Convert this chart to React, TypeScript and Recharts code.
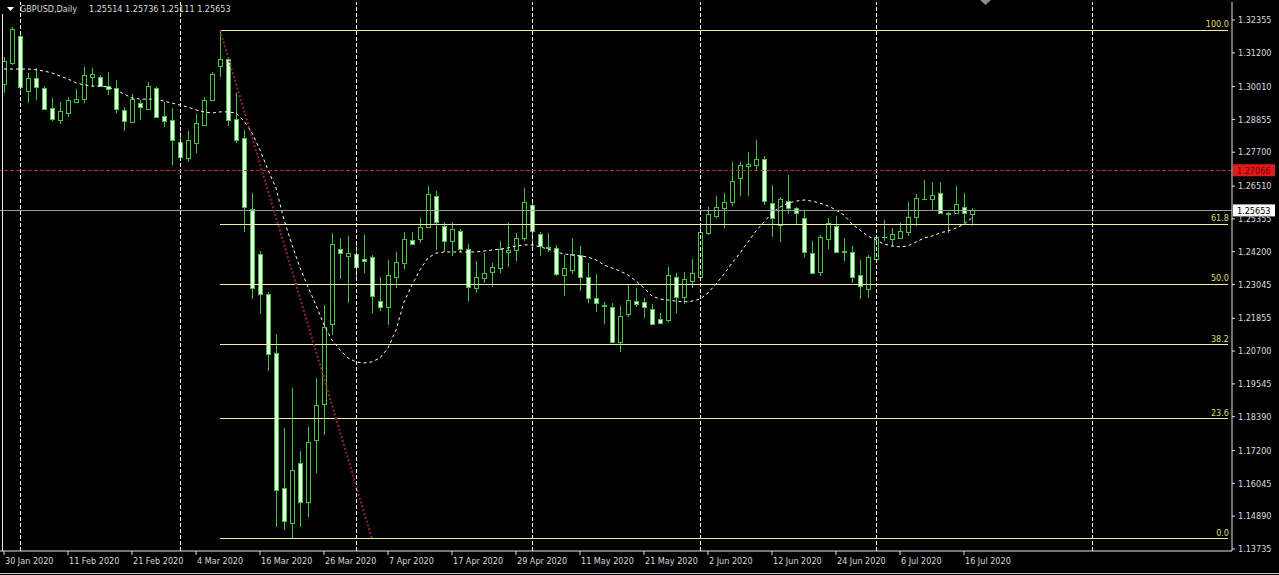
import { ComposedChart, Bar, Line, XAxis, YAxis, ReferenceLine } from 'recharts'

const FONT = "'DejaVu Sans Condensed', 'DejaVu Sans', sans-serif"

const DATES = [
  '30 Jan', '31 Jan',
  '3 Feb', '4 Feb', '5 Feb', '6 Feb', '7 Feb', '10 Feb', '11 Feb', '12 Feb', '13 Feb', '14 Feb',
  '17 Feb', '18 Feb', '19 Feb', '20 Feb', '21 Feb', '24 Feb', '25 Feb', '26 Feb', '27 Feb', '28 Feb',
  '2 Mar', '3 Mar', '4 Mar', '5 Mar', '6 Mar', '9 Mar', '10 Mar', '11 Mar', '12 Mar', '13 Mar',
  '16 Mar', '17 Mar', '18 Mar', '19 Mar', '20 Mar', '23 Mar', '24 Mar', '25 Mar', '26 Mar', '27 Mar',
  '30 Mar', '31 Mar',
  '1 Apr', '2 Apr', '3 Apr', '6 Apr', '7 Apr', '8 Apr', '9 Apr', '10 Apr', '13 Apr', '14 Apr',
  '15 Apr', '16 Apr', '17 Apr', '20 Apr', '21 Apr', '22 Apr', '23 Apr', '24 Apr', '27 Apr', '28 Apr',
  '29 Apr', '30 Apr',
  '1 May', '4 May', '5 May', '6 May', '7 May', '8 May', '11 May', '12 May', '13 May', '14 May',
  '15 May', '18 May', '19 May', '20 May', '21 May', '22 May', '25 May', '26 May', '27 May', '28 May',
  '29 May',
  '1 Jun', '2 Jun', '3 Jun', '4 Jun', '5 Jun', '8 Jun', '9 Jun', '10 Jun', '11 Jun', '12 Jun',
  '15 Jun', '16 Jun', '17 Jun', '18 Jun', '19 Jun', '22 Jun', '23 Jun', '24 Jun', '25 Jun', '26 Jun',
  '29 Jun', '30 Jun',
  '1 Jul', '2 Jul', '3 Jul', '6 Jul', '7 Jul', '8 Jul', '9 Jul', '10 Jul', '13 Jul', '14 Jul',
  '15 Jul', '16 Jul', '17 Jul',
]

const OPEN = [
  1.3010, 1.3084, 1.3179, 1.2986, 1.3031, 1.2996, 1.2926, 1.2884, 1.2908, 1.2947,
  1.2957, 1.3035, 1.3035, 1.3003, 1.2996, 1.2919, 1.2876, 1.2943, 1.2922, 1.2996,
  1.2898, 1.2884, 1.2806, 1.2750, 1.2803, 1.2866, 1.2954, 1.3074, 1.3098, 1.2887,
  1.2820, 1.2570, 1.2412, 1.2271, 1.2063, 1.1588, 1.1465, 1.1676, 1.1539, 1.1757,
  1.1884, 1.2165, 1.2429, 1.2405, 1.2412, 1.2394, 1.2401, 1.2246, 1.2225, 1.2331,
  1.2380, 1.2461, 1.2465, 1.2507, 1.2616, 1.2510, 1.2458, 1.2493, 1.2429, 1.2292,
  1.2327, 1.2348, 1.2363, 1.2419, 1.2426, 1.2468, 1.2584, 1.2482, 1.2437, 1.2433,
  1.2338, 1.2356, 1.2408, 1.2331, 1.2257, 1.2232, 1.2225, 1.2102, 1.2201, 1.2246,
  1.2243, 1.2218, 1.2183, 1.2180, 1.2331, 1.2261, 1.2317, 1.2331, 1.2486, 1.2546,
  1.2574, 1.2595, 1.2679, 1.2722, 1.2725, 1.2746, 1.2591, 1.2514, 1.2598, 1.2574,
  1.2539, 1.2415, 1.2348, 1.2465, 1.2510, 1.2419, 1.2419, 1.2338, 1.2289, 1.2394,
  1.2472, 1.2465, 1.2468, 1.2489, 1.2542, 1.2605, 1.2605, 1.2627, 1.2556, 1.2556,
  1.2577, 1.25514,
]

const HIGH = [
  1.3105, 1.3211, 1.3190, 1.3049, 1.3067, 1.3003, 1.2961, 1.2947, 1.2964, 1.2993,
  1.3070, 1.3067, 1.3042, 1.3052, 1.3024, 1.2929, 1.2975, 1.2954, 1.3017, 1.3000,
  1.2947, 1.2926, 1.2841, 1.2845, 1.2905, 1.2964, 1.3052, 1.3200, 1.3105, 1.2979,
  1.2848, 1.2627, 1.2422, 1.2278, 1.2130, 1.1799, 1.1940, 1.1718, 1.1803, 1.1975,
  1.2232, 1.2486, 1.2468, 1.2475, 1.2444, 1.2479, 1.2408, 1.2331, 1.2391, 1.2419,
  1.2489, 1.2489, 1.2539, 1.2651, 1.2634, 1.2524, 1.2524, 1.2500, 1.2447, 1.2387,
  1.2415, 1.2380, 1.2458, 1.2521, 1.2486, 1.2644, 1.2595, 1.2489, 1.2486, 1.2444,
  1.2408, 1.2468, 1.2440, 1.2380, 1.2341, 1.2243, 1.2239, 1.2229, 1.2303, 1.2292,
  1.2257, 1.2236, 1.2204, 1.2366, 1.2345, 1.2348, 1.2394, 1.2507, 1.2577, 1.2616,
  1.2627, 1.2736, 1.2736, 1.2771, 1.2813, 1.2757, 1.2655, 1.2612, 1.2690, 1.2577,
  1.2563, 1.2458, 1.2479, 1.2539, 1.2546, 1.2468, 1.2440, 1.2391, 1.2408, 1.2475,
  1.2532, 1.2503, 1.2521, 1.2595, 1.2623, 1.2672, 1.2665, 1.2665, 1.2560, 1.2651,
  1.2627, 1.25736,
]

const LOW = [
  1.2979, 1.3077, 1.2982, 1.2943, 1.2954, 1.2919, 1.2880, 1.2869, 1.2894, 1.2943,
  1.2943, 1.3000, 1.3000, 1.2972, 1.2908, 1.2845, 1.2873, 1.2884, 1.2919, 1.2891,
  1.2859, 1.2725, 1.2743, 1.2736, 1.2767, 1.2862, 1.2950, 1.3035, 1.2862, 1.2803,
  1.2489, 1.2253, 1.2201, 1.2000, 1.1451, 1.1440, 1.1409, 1.1451, 1.1486, 1.1641,
  1.1775, 1.2127, 1.2324, 1.2239, 1.2320, 1.2345, 1.2204, 1.2211, 1.2162, 1.2292,
  1.2359, 1.2444, 1.2451, 1.2503, 1.2426, 1.2419, 1.2405, 1.2419, 1.2246, 1.2275,
  1.2310, 1.2296, 1.2345, 1.2366, 1.2387, 1.2458, 1.2437, 1.2405, 1.2419, 1.2334,
  1.2264, 1.2341, 1.2282, 1.2239, 1.2208, 1.2165, 1.2099, 1.2067, 1.2190, 1.2225,
  1.2187, 1.2162, 1.2165, 1.2172, 1.2204, 1.2236, 1.2292, 1.2327, 1.2479, 1.2539,
  1.2503, 1.2581, 1.2616, 1.2616, 1.2708, 1.2584, 1.2472, 1.2454, 1.2553, 1.2514,
  1.2401, 1.2341, 1.2334, 1.2429, 1.2415, 1.2387, 1.2310, 1.2253, 1.2257, 1.2384,
  1.2458, 1.2440, 1.2465, 1.2475, 1.2510, 1.2602, 1.2567, 1.2553, 1.2486, 1.2553,
  1.2521, 1.25111,
]

const CLOSE = [
  1.3091, 1.3204, 1.3000, 1.3031, 1.3000, 1.2922, 1.2887, 1.2915, 1.2954, 1.2957,
  1.3042, 1.3045, 1.3003, 1.2993, 1.2922, 1.2880, 1.2957, 1.2929, 1.3003, 1.2894,
  1.2880, 1.2813, 1.2753, 1.2813, 1.2873, 1.2954, 1.3045, 1.3098, 1.2884, 1.2813,
  1.2577, 1.2292, 1.2271, 1.2060, 1.1581, 1.1472, 1.1652, 1.1539, 1.1750, 1.1880,
  1.2155, 1.2447, 1.2415, 1.2415, 1.2366, 1.2387, 1.2264, 1.2225, 1.2338, 1.2384,
  1.2465, 1.2447, 1.2507, 1.2623, 1.2524, 1.2458, 1.2500, 1.2429, 1.2296, 1.2331,
  1.2345, 1.2366, 1.2429, 1.2426, 1.2468, 1.2595, 1.2493, 1.2440, 1.2433, 1.2341,
  1.2363, 1.2412, 1.2331, 1.2257, 1.2239, 1.2230, 1.2102, 1.2194, 1.2250, 1.2236,
  1.2225, 1.2165, 1.2169, 1.2338, 1.2261, 1.2324, 1.2345, 1.2489, 1.2553, 1.2577,
  1.2595, 1.2669, 1.2725, 1.2729, 1.2746, 1.2598, 1.2539, 1.2605, 1.2574, 1.2556,
  1.2419, 1.2345, 1.2472, 1.2521, 1.2419, 1.2422, 1.2331, 1.2299, 1.2401, 1.2472,
  1.2470, 1.2482, 1.2493, 1.2542, 1.2609, 1.2607, 1.2620, 1.2556, 1.2554, 1.2588,
  1.2556, 1.25653,
]

// moving average
const MA = [
  1.3063, 1.3063, 1.3063, 1.3063, 1.3060, 1.3056, 1.3049, 1.3038, 1.3028, 1.3014,
  1.3007, 1.3003, 1.3003, 1.3000, 1.2989, 1.2975, 1.2961, 1.2957, 1.2957, 1.2957,
  1.2950, 1.2943, 1.2936, 1.2929, 1.2919, 1.2912, 1.2908, 1.2912, 1.2912, 1.2908,
  1.2880, 1.2838, 1.2778, 1.2708, 1.2644, 1.2532, 1.2444, 1.2363, 1.2296, 1.2232,
  1.2162, 1.2109, 1.2074, 1.2046, 1.2032, 1.2028, 1.2032, 1.2046, 1.2081, 1.2144,
  1.2243, 1.2303, 1.2356, 1.2398, 1.2415, 1.2419, 1.2419, 1.2419, 1.2419, 1.2419,
  1.2422, 1.2426, 1.2429, 1.2433, 1.2440, 1.2444, 1.2444, 1.2437, 1.2429, 1.2419,
  1.2412, 1.2408, 1.2405, 1.2401, 1.2391, 1.2373, 1.2363, 1.2352, 1.2338, 1.2317,
  1.2292, 1.2264, 1.2253, 1.2250, 1.2246, 1.2243, 1.2246, 1.2253, 1.2275, 1.2306,
  1.2341, 1.2380, 1.2415, 1.2454, 1.2493, 1.2524, 1.2556, 1.2577, 1.2591, 1.2598,
  1.2602, 1.2598, 1.2591, 1.2581, 1.2567, 1.2549, 1.2517, 1.2496, 1.2475, 1.2461,
  1.2447, 1.2440, 1.2437, 1.2440, 1.2454, 1.2468, 1.2475, 1.2486, 1.2493, 1.2503,
  1.2517, 1.2539,
]

const SLOT_COUNT = 154 // visible bar slots incl. empty space on the right
const X_TICKS = [0, 8, 16, 24, 32, 40, 48, 56, 64, 72, 80, 88, 96, 104, 112, 120]
const GRID_SLOTS = [2, 22, 44, 66, 87, 109, 136]

const PRICE_TICKS = [
  1.32355, 1.312, 1.3001, 1.28855, 1.277, 1.2651, 1.25355, 1.242, 1.23045,
  1.21855, 1.207, 1.19545, 1.1839, 1.172, 1.16045, 1.1489, 1.13735,
]
const PRICE_MIN = 1.136638
const PRICE_MAX = 1.329886

const FIB_LABELS = ['100.0', '61.8', '50.0', '38.2', '23.6', '0.0']
const FIB_PRICES = [1.3200, 1.2516, 1.2305, 1.2093, 1.1832, 1.1409]
const FIB_FROM = 27
const TREND_FROM = { slot: 27, price: 1.3200 }
const TREND_TO = { slot: 46, price: 1.1409 }

const LEVEL_PRICE = 1.27066
const BID_PRICE = 1.25653

const WICK = '#43c443'
const BEAR_FILL = '#e2fbe0'

const rows = Array.from({ length: SLOT_COUNT }, (_, slot) => ({
  slot,
  date: DATES[slot],
  open: OPEN[slot],
  high: HIGH[slot],
  low: LOW[slot],
  close: CLOSE[slot],
  ma: MA[slot],
}))

function Candle(props: any) {
  const { x, y, width, height, payload } = props
  if (!payload || payload.high == null) return null
  const top = Math.min(y, y + height)
  const span = Math.abs(height)
  const k = span / (payload.high - payload.low)
  const cx = Math.round(x + width / 2) + 0.5
  const bull = payload.close >= payload.open
  const bTop = Math.round(top + (payload.high - Math.max(payload.open, payload.close)) * k) + 0.5
  const bBot = Math.round(top + (payload.high - Math.min(payload.open, payload.close)) * k) + 0.5
  return (
    <g>
      <line x1={cx} x2={cx} y1={top} y2={top + span} stroke={WICK} strokeWidth={1} />
      {bBot - bTop < 1 ? (
        <line x1={cx - 2.5} x2={cx + 2.5} y1={bTop} y2={bTop} stroke={WICK} strokeWidth={1} />
      ) : (
        <rect
          x={cx - 2}
          y={bTop}
          width={4}
          height={bBot - bTop}
          fill={bull ? '#000' : BEAR_FILL}
          stroke={WICK}
          strokeWidth={1}
        />
      )}
    </g>
  )
}

function DateTick(props: any) {
  const { x, y, payload } = props
  return (
    <text x={x + 1} y={y + 7} fill="#d8d8d8" fontSize={9} fontFamily={FONT} textAnchor="start">
      {`${DATES[payload.value]} 2020`}
    </text>
  )
}

function FibTag(props: any) {
  const { viewBox, text } = props
  if (!viewBox) return null
  return (
    <text
      x={viewBox.x + viewBox.width + 1}
      y={viewBox.y - 3}
      fill="#dede6c"
      fontSize={9}
      fontFamily={FONT}
      textAnchor="end"
    >
      {text}
    </text>
  )
}

function PriceTag(props: any) {
  const { viewBox, text, bg, fg } = props
  if (!viewBox) return null
  const left = viewBox.x + viewBox.width + 1
  return (
    <g>
      <rect x={left} y={viewBox.y - 6} width={42} height={12} fill={bg} />
      <text x={left + 4} y={viewBox.y + 3.5} fill={fg} fontSize={9} fontFamily={FONT}>
        {text}
      </text>
    </g>
  )
}

export default function App() {
  return (
    <div style={{ position: 'fixed', left: 0, top: 0, width: 1279, height: 575, background: '#000', overflow: 'hidden' }}>
      <ComposedChart
        width={1279}
        height={575}
        data={rows}
        margin={{ top: 2, right: 0, bottom: 0, left: 0 }}
        barCategoryGap={1}
      >
        <XAxis
          dataKey="slot"
          type="category"
          ticks={X_TICKS}
          interval={0}
          height={24}
          tick={<DateTick />}
          tickSize={4}
          tickLine={{ stroke: '#e0e0e0' }}
          axisLine={{ stroke: '#e8e8e8' }}
        />
        <YAxis
          orientation="right"
          type="number"
          domain={[PRICE_MIN, PRICE_MAX]}
          allowDataOverflow
          ticks={PRICE_TICKS}
          interval={0}
          width={47}
          tickSize={3}
          tickMargin={3}
          tickFormatter={(v: number) => v.toFixed(5)}
          tick={{ fill: '#dcdcdc', fontSize: 9, fontFamily: FONT }}
          tickLine={{ stroke: '#e0e0e0' }}
          axisLine={{ stroke: '#e8e8e8' }}
        />
        {GRID_SLOTS.map((s) => (
          <ReferenceLine key={`g${s}`} x={s} stroke="#f4f4f4" strokeDasharray="4 2" shapeRendering="crispEdges" />
        ))}
        <Bar
          dataKey={(d: any) => (d.high == null ? null : [d.low, d.high])}
          shape={<Candle />}
          isAnimationActive={false}
        />
        <Line
          dataKey="ma"
          stroke="#ffffff"
          strokeWidth={1}
          strokeDasharray="3 3"
          dot={false}
          activeDot={false}
          type="linear"
          isAnimationActive={false}
        />
        <ReferenceLine
          y={LEVEL_PRICE}
          stroke="#a83030"
          strokeDasharray="4 2"
          shapeRendering="crispEdges"
          label={(p: any) => <PriceTag {...p} text={LEVEL_PRICE.toFixed(5)} bg="#e01a1a" fg="#7a0000" />}
        />
        <ReferenceLine
          y={BID_PRICE}
          stroke="#9c9ca8"
          shapeRendering="crispEdges"
          label={(p: any) => <PriceTag {...p} text={BID_PRICE.toFixed(5)} bg="#ffffff" fg="#000000" />}
        />
        {FIB_PRICES.map((price, i) => (
          <ReferenceLine
            key={`f${i}`}
            segment={[
              { x: FIB_FROM, y: price },
              { x: SLOT_COUNT - 1, y: price },
            ]}
            stroke="#f2eea6"
            shapeRendering="crispEdges"
            label={(p: any) => <FibTag {...p} text={FIB_LABELS[i]} />}
          />
        ))}
        <ReferenceLine
          segment={[
            { x: TREND_FROM.slot, y: TREND_FROM.price },
            { x: TREND_TO.slot, y: TREND_TO.price },
          ]}
          stroke="#8e2828"
          strokeWidth={2}
          strokeDasharray="2 2"
        />
      </ComposedChart>

      <svg width={1279} height={575} style={{ position: 'absolute', left: 0, top: 0, pointerEvents: 'none' }}>
        <polygon points="7,7 14,7 10.5,11" fill="#ffffff" />
        <polygon points="980,0 991,0 985.5,5" fill="#8c8c8c" />
        <line x1={2.5} x2={2.5} y1={14} y2={551} stroke="#e8e8e8" />
        <line x1={0} x2={1279} y1={573.5} y2={573.5} stroke="#cfcfcf" />
      </svg>
      <div style={{ position: 'absolute', left: 20, top: 3, fontFamily: FONT, fontSize: 9, lineHeight: '12px', color: '#dcdcdc', whiteSpace: 'pre' }}>
        GBPUSD,Daily
      </div>
      <div style={{ position: 'absolute', left: 89, top: 3, fontFamily: FONT, fontSize: 9, lineHeight: '12px', color: '#dcdcdc', whiteSpace: 'pre' }}>
        {`${OPEN[121].toFixed(5)} ${HIGH[121].toFixed(5)} ${LOW[121].toFixed(5)} ${CLOSE[121].toFixed(5)}`}
      </div>
    </div>
  )
}
